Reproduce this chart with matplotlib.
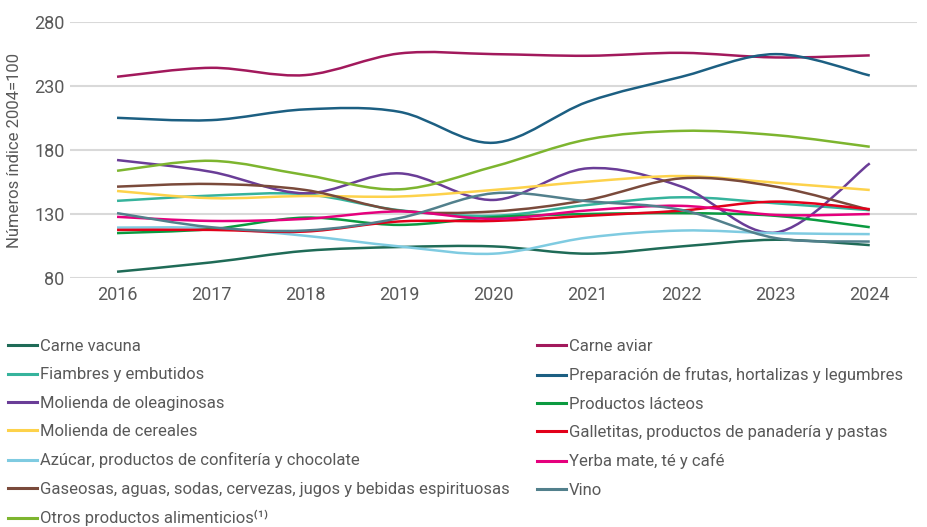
import matplotlib
matplotlib.use('Agg')
import matplotlib.pyplot as plt
from matplotlib.path import Path
from matplotlib.patches import PathPatch
from matplotlib.lines import Line2D
import numpy as np

# indices 2004=100
years = [2016, 2017, 2018, 2019, 2020, 2021, 2022, 2023, 2024]

carne_vacuna = [84.9, 92.2, 101.2, 104.2, 104.7, 99.0, 104.7, 109.9, 105.7]
carne_aviar = [237.3, 244.3, 238.6, 255.5, 255.0, 253.7, 256.0, 252.4, 254.0]
fiambres = [140.3, 144.4, 145.5, 133.0, 128.6, 137.1, 143.1, 138.4, 133.0]
preparacion = [205.2, 203.4, 211.8, 209.9, 185.7, 217.7, 237.3, 255.0, 238.3]
oleaginosas = [172.2, 163.0, 146.2, 161.8, 141.0, 165.7, 151.4, 115.5, 169.6]
lacteos = [115.1, 118.2, 127.2, 121.5, 127.5, 130.0, 130.7, 128.6, 119.7]
cereales = [148.0, 142.4, 144.1, 143.7, 148.8, 155.3, 159.7, 154.5, 148.8]
galletitas = [117.6, 117.6, 116.3, 124.2, 124.6, 128.6, 132.7, 139.7, 133.8]
azucar = [119.4, 119.0, 113.0, 104.7, 99.0, 111.6, 117.1, 115.0, 114.3]
yerba = [127.8, 124.6, 126.2, 132.0, 126.2, 132.8, 136.4, 129.3, 130.0]
gaseosas = [151.4, 153.5, 148.8, 132.7, 132.0, 141.0, 157.9, 151.4, 133.2]
vino = [130.7, 119.7, 117.1, 126.8, 146.2, 140.0, 133.2, 111.2, 108.5]
otros = [163.8, 171.6, 160.5, 149.3, 167.0, 188.3, 195.0, 191.7, 182.6]

left_col = [
    ('Carne vacuna', carne_vacuna, '#1f6b57'),
    ('Fiambres y embutidos', fiambres, '#36b39c'),
    ('Molienda de oleaginosas', oleaginosas, '#6a3d97'),
    ('Molienda de cereales', cereales, '#fdd24b'),
    ('Azúcar, productos de confitería y chocolate', azucar, '#7fcbe1'),
    ('Gaseosas, aguas, sodas, cervezas, jugos y bebidas espirituosas', gaseosas, '#7a4a3b'),
    ('Otros productos alimenticios⁽¹⁾', otros, '#7db52f'),
]
right_col = [
    ('Carne aviar', carne_aviar, '#a2195c'),
    ('Preparación de frutas, hortalizas y legumbres', preparacion, '#1c5f82'),
    ('Productos lácteos', lacteos, '#0b9a40'),
    ('Galletitas, productos de panadería y pastas', galletitas, '#e2001a'),
    ('Yerba mate, té y café', yerba, '#e5007d'),
    ('Vino', vino, '#52808c'),
]

TXT = '#595959'
plt.rcParams['font.family'] = ['Roboto', 'DejaVu Sans']


def smooth_path(x, y):
    """Catmull-Rom style bezier path through the points (like excel smoothed lines)."""
    pts = np.column_stack([x, y]).astype(float)
    ext = np.vstack([pts[0], pts, pts[-1]])
    verts = [pts[0]]
    codes = [Path.MOVETO]
    for i in range(len(pts) - 1):
        p0, p1, p2, p3 = ext[i], ext[i + 1], ext[i + 2], ext[i + 3]
        c1 = p1 + (p2 - p0) / 6.0
        c2 = p2 - (p3 - p1) / 6.0
        verts += [c1, c2, p2]
        codes += [Path.CURVE4] * 3
    return Path(verts, codes)


fig = plt.figure(figsize=(9.27, 5.27), dpi=100)
ax = fig.add_axes([0.0755, 0.4725, 0.9135, 0.4855])

for name, vals, col in left_col + right_col:
    ax.add_patch(PathPatch(smooth_path(years, vals), facecolor='none',
                           edgecolor=col, lw=1.8, capstyle='butt'))

ax.set_xlim(2015.5, 2024.5)
ax.set_ylim(80, 280)
ax.set_xticks(years)
ax.set_yticks([80, 130, 180, 230, 280])
ax.grid(axis='y', color='#d9d9d9', lw=1.5)
ax.set_axisbelow(True)
for s in ax.spines.values():
    s.set_visible(False)
ax.tick_params(length=0, labelsize=13, colors=TXT, pad=6)
ax.tick_params(axis='y', pad=4)
ax.set_ylabel('Números índice 2004=100', fontsize=12, color=TXT, labelpad=9)

hl = [Line2D([], [], color=c, lw=2.2) for _, _, c in left_col]
hr = [Line2D([], [], color=c, lw=2.2) for _, _, c in right_col]
common = dict(frameon=False, fontsize=12, handlelength=1.75, handletextpad=0.15,
              labelspacing=0.8, borderaxespad=0, borderpad=0, labelcolor=TXT)
fig.legend(hl, [n for n, _, _ in left_col], loc='upper left',
           bbox_to_anchor=(8 / 927, 1 - 339 / 527), **common)
fig.legend(hr, [n for n, _, _ in right_col], loc='upper left',
           bbox_to_anchor=(537 / 927, 1 - 339 / 527), **common)

fig.savefig('out.png', dpi=100)
